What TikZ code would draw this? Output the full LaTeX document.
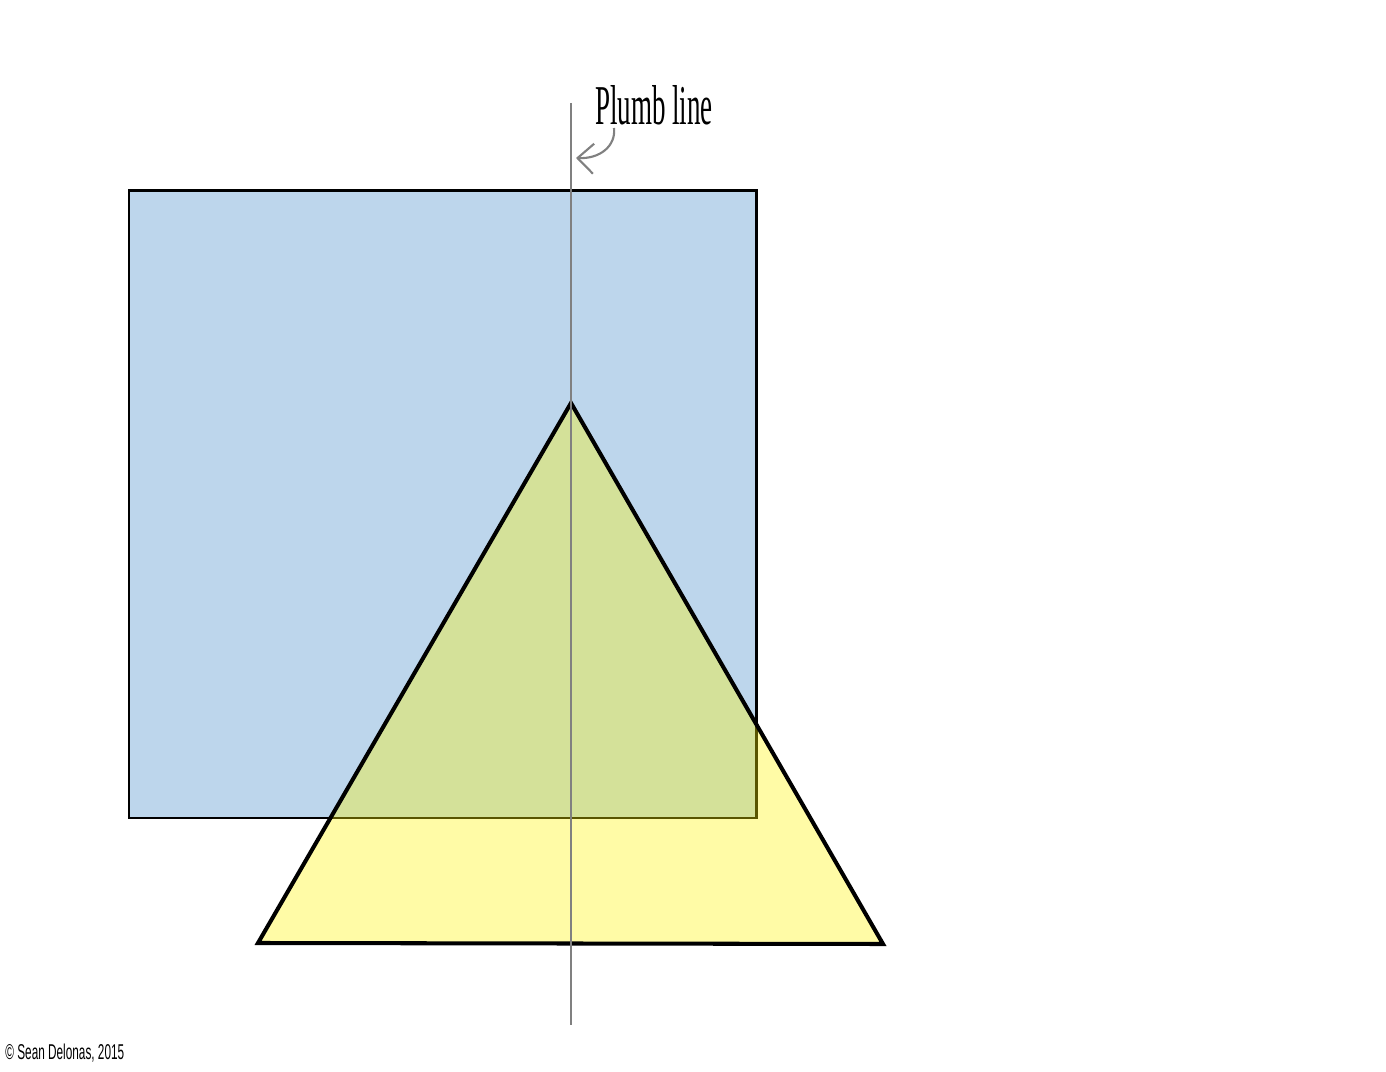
\documentclass[tikz,border=0pt]{standalone}
\usepackage{fontspec}
\setmainfont{Liberation Serif}
\newfontfamily\narrowsans{Liberation Sans}
\usepackage{tikz}
\usetikzlibrary{arrows.meta}
\definecolor{squareblue}{RGB}{189,214,236}
\definecolor{triyellow}{RGB}{255,246,0}
\definecolor{plumbgray}{RGB}{128,128,128}
\tikzstyle{square} = [draw=black, line width=0.85pt, fill=squareblue]
\tikzstyle{triangle} = [draw=black, line width=1.15pt, line join=miter, fill=triyellow, fill opacity=0.35, draw opacity=1]
\tikzstyle{plumb} = [draw=plumbgray, line width=0.6pt]
\tikzstyle{pointer} = [draw=plumbgray, line width=0.6pt, -{Straight Barb[length=1.6mm,width=3mm]}]

\begin{document}
\begin{tikzpicture}
            \useasboundingbox (0,0) rectangle (13.86,10.71);
            \fill[white] (0,0) rectangle (13.86,10.71);

            \coordinate (sq_sw) at (1.29,2.53);
            \coordinate (sq_ne) at (7.56,8.80);
            \coordinate (tri_top) at (5.71,6.68);
            \coordinate (tri_left) at (2.58,1.28);
            \coordinate (tri_right) at (8.83,1.27);
            \coordinate (plumb_top) at (5.71,9.68);
            \coordinate (plumb_bottom) at (5.71,0.46);

            \draw[square] (sq_sw) rectangle (sq_ne);
            \draw[triangle] (tri_top) -- (tri_left) -- (tri_right) -- cycle;
            \draw[plumb] (plumb_top) -- (plumb_bottom);

            \node (plumb_label) [xscale=0.48, inner sep=0pt] at (6.54,9.66) {\fontsize{16}{18}\selectfont Plumb line};
            \coordinate (pointer_start) at (6.14,9.43);
            \coordinate (pointer_end) at (5.76,9.13);
            \draw[pointer] (pointer_start) .. controls (6.16,9.25) and (6.0,9.12) .. (pointer_end);

            \node (credit) [anchor=south west, xscale=0.55, inner sep=0pt] at (0.05,0.08) {\narrowsans\fontsize{6.1}{7}\selectfont \textcopyright{} Sean Delonas, 2015};
        \end{tikzpicture}
\end{document}
